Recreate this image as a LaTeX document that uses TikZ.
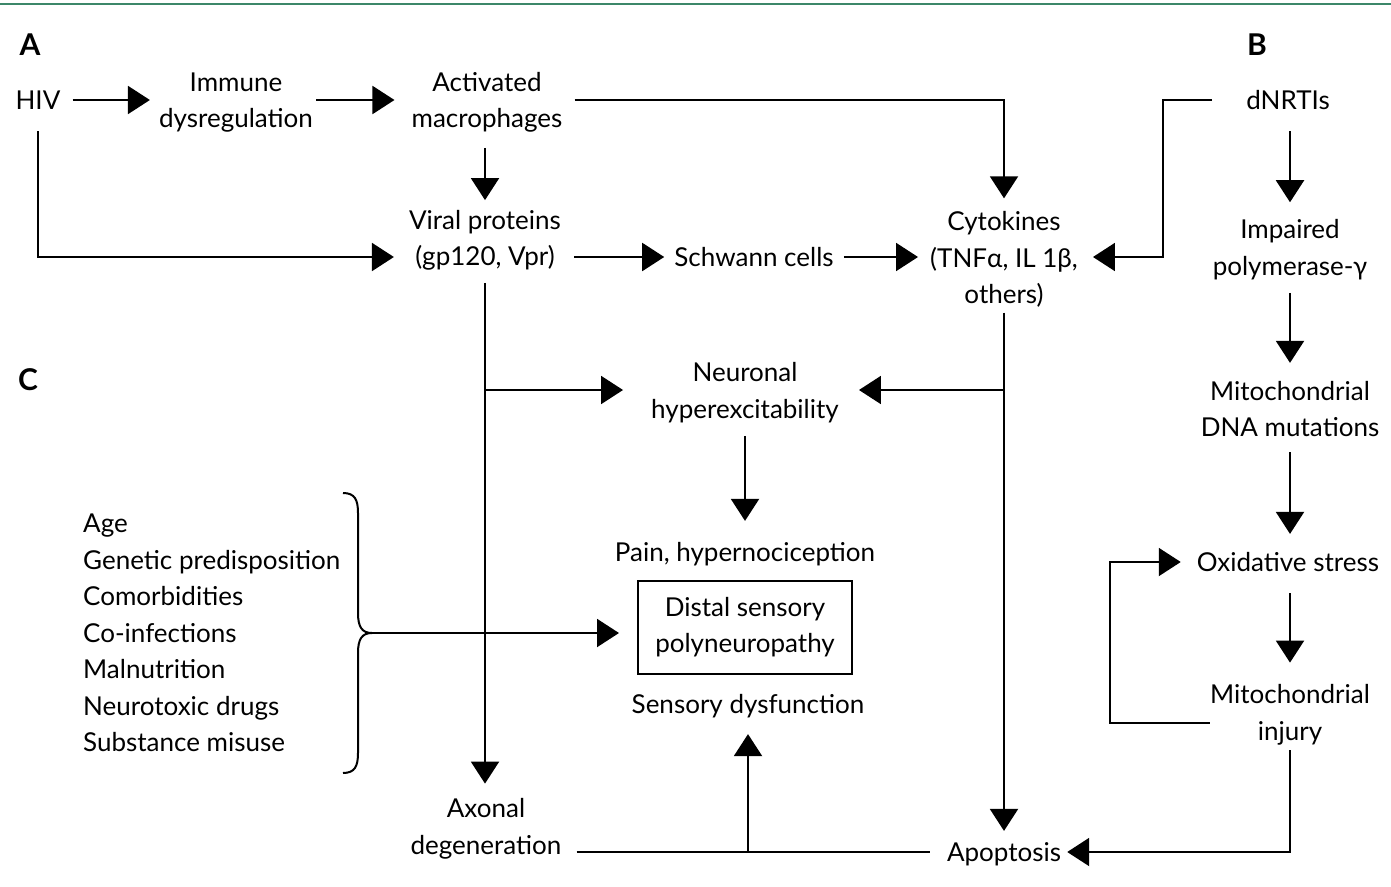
\documentclass[tikz,border=0pt]{standalone}
\usepackage{fontspec}
\setmainfont{Lato}
\usetikzlibrary{arrows.meta,calc}
\definecolor{topline}{RGB}{60,135,105}
\begin{document}
\begin{tikzpicture}[x=1pt,y=-1pt,
  every node/.style={font=\fontsize{26}{36.5}\selectfont, inner sep=0pt, align=center},
  one/.style={text height=20.5pt, text depth=1.3pt},
  lbl/.style={font=\fontsize{30}{36}\selectfont\bfseries},
  conn/.style={line width=2pt},
  arr/.style={conn, -{Triangle[length=22pt,width=28pt]}},
  dspbox/.style={draw, line width=2pt, minimum width=214pt, minimum height=93pt}]
\useasboundingbox (0,0) rectangle (1391,886);
\draw[topline, line width=2.5pt] (0,4) -- (1391,4);

% panel labels
\node[lbl] (lA) at (30,45) {A};
\node[lbl] (lB) at (1257,45) {B};
\node[lbl] (lC) at (28,380) {C};

% row levels
\coordinate (rowA) at (0,100);
\coordinate (rowB) at (0,257);
\coordinate (rowN) at (0,390);
\coordinate (rowP) at (0,852);

% nodes
\node[one] (hiv) at (38,100) {HIV};
\node (immune) at (236,102.5) {Immune\\dysregulation};
\node (macro) at (487,102.5) {Activated\\macrophages};
\node (viral) at (485,240.5) {Viral proteins\\(gp120, Vpr)};
\node[one] (schwann) at (754,257) {Schwann cells};
\node (cyto) at (1004,259.5) {Cytokines\\(TNFα, IL 1β,\\others)};
\node[one] (dnrti) at (1288,100) {dNRTIs};
\node (poly) at (1290,249.5) {Impaired\\polymerase-γ};
\node (mtdna) at (1290,409) {Mitochondrial\\DNA mutations};
\node[one] (oxid) at (1288,562) {Oxidative stress};
\node (injury) at (1290,715) {Mitochondrial\\injury};
\node (neuro) at (745,392.5) {Neuronal\\hyperexcitability};
\node[one] (pain) at (745,552) {Pain, hypernociception};
\node[dspbox] (dsp) at (745,627) {Distal sensory\\polyneuropathy};
\node[one] (sensdys) at (748,704) {Sensory dysfunction};
\node (axonal) at (486,829) {Axonal\\degeneration};
\node[one] (apop) at (1004,852) {Apoptosis};
\node[anchor=west, align=left] (risk) at (83,633) {Age\\Genetic predisposition\\Comorbidities\\Co-infections\\Malnutrition\\Neurotoxic drugs\\Substance misuse};

% junction coordinates
\coordinate (j1) at (viral.south |- rowN);
\coordinate (j2) at (cyto.south |- rowN);
\coordinate (j3) at (sensdys.south |- rowP);
\coordinate (kb) at (1163,100);
\coordinate (loopA) at (1110,723);
\coordinate (bt) at (372,633);

% panel A
\draw[arr, shorten <=12pt, shorten >=9pt] (hiv.east) -- (immune.west |- hiv.east);
\draw[arr, shorten <=3pt, shorten >=17pt] (immune.east |- rowA) -- (macro.west |- rowA);
\draw[arr, shorten <=12pt, shorten >=13pt] (macro.east |- rowA) -| (cyto.north);
\draw[arr, shorten <=15pt, shorten >=10pt] (viral.north |- macro.south) -- (viral.north);
\draw[arr, shorten <=20pt, shorten >=15pt] (hiv.south) |- (viral.west |- rowB);
\draw[arr, shorten <=13pt, shorten >=10pt] (viral.east |- rowB) -- (schwann.west);
\draw[arr, shorten <=10pt, shorten >=12pt] (schwann.east) -- (cyto.west |- rowB);

% panel B
\draw[arr, shorten <=34pt, shorten >=15pt] (dnrti.west) -- (kb) |- (cyto.east |- rowB);
\draw[arr, shorten <=20pt, shorten >=17pt] (poly.north |- dnrti.south) -- (poly.north);
\draw[arr, shorten <=13pt, shorten >=18pt] (poly.south) -- (mtdna.north);
\draw[arr, shorten <=15pt, shorten >=17pt] (mtdna.south) -- (mtdna.south |- oxid.north);
\draw[arr, shorten <=20pt, shorten >=22pt] (injury.north |- oxid.south) -- (injury.north);
\draw[arr, shorten >=16pt] (injury.west |- loopA) -- (loopA) |- (oxid.west);
\draw[arr, shorten <=5pt, shorten >=6pt] (injury.south) |- (apop.east);

% panel C
\draw[arr, shorten <=5pt, shorten >=10pt] (cyto.south) -- (apop.north);
\draw[arr, shorten >=20pt] (j2) -- (neuro.east |- rowN);
\draw[arr, shorten <=12pt, shorten >=15pt] (viral.south) -- (viral.south |- axonal.north);
\draw[arr, shorten >=28pt] (j1) -- (neuro.west |- rowN);
\draw[arr, shorten <=13pt, shorten >=20pt] (pain.north |- neuro.south) -- (pain.north);
\draw[conn, shorten <=15pt, shorten >=17pt] (axonal.east |- rowP) -- (apop.west);
\draw[arr, shorten >=19pt] (j3) -- (sensdys.south);
\draw[arr, shorten >=18pt] (bt) -- (bt -| dsp.west);

% brace
\draw[conn] (343,493) .. controls (355,493) and (358,500) .. (358,513)
  -- (358,613) .. controls (358,627) and (362,633) .. (bt)
  .. controls (362,633) and (358,639) .. (358,653)
  -- (358,753) .. controls (358,766) and (355,773) .. (343,773);
\end{tikzpicture}
\end{document}
